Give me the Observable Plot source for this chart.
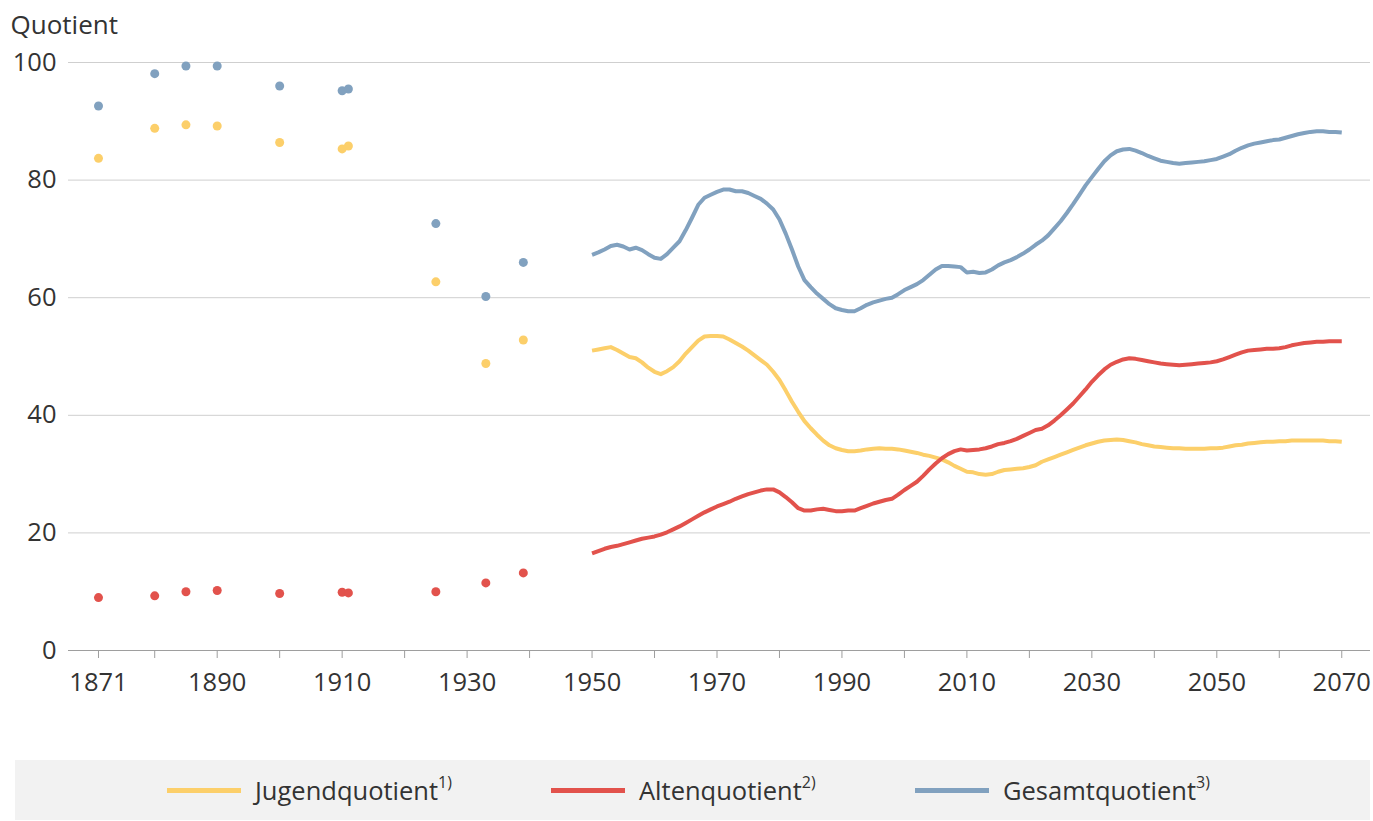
<!DOCTYPE html>
<html>
<head>
<meta charset="utf-8">
<script src="https://cdn.jsdelivr.net/npm/d3@7"></script>
<script src="https://cdn.jsdelivr.net/npm/@observablehq/plot@0.6"></script>
<style>
  html, body { margin: 0; padding: 0; background: #fff; }
  body { width: 1373px; font-family: "Open Sans", sans-serif; color: #333; }
  #chart svg { display: block; }
  .legend {
    margin: 20px 0 0 15px; width: 1355px; height: 60px; background: #f2f2f2;
    position: relative; font-size: 25.5px; color: #333;
  }
  .item { position: absolute; top: 0; height: 60px; display: flex; align-items: center; }
  .sw { width: 74px; height: 5px; margin-right: 14px; }
  .item sup { font-size: 16px; position: relative; top: -3px; }
</style>
</head>
<body>
<div id="chart"></div>
<div class="legend" id="legend"></div>
<script>
// ---- Data ----
const seriesNames = ["Jugendquotient", "Altenquotient", "Gesamtquotient"];
const seriesNotes = ["1)", "2)", "3)"];
const seriesColors = ["#fccf6a", "#e2524c", "#81a1bf"];

// Census years (dots)
const histYears   = [1871, 1880, 1885, 1890, 1900, 1910, 1911, 1925, 1933, 1939];
const histJugend  = [83.7, 88.8, 89.4, 89.2, 86.4, 85.3, 85.8, 62.7, 48.8, 52.8];
const histAlten   = [9.0, 9.3, 10.0, 10.2, 9.7, 9.9, 9.8, 10.0, 11.5, 13.2];
const histGesamt  = [92.6, 98.1, 99.4, 99.4, 96.0, 95.2, 95.5, 72.6, 60.2, 66.0];

// Annual series 1950–2070 (lines)
const lineYears = d3.range(1950, 2071);
const lineJugend = [
  51.0,51.2,51.4,51.6,51.1,50.5,49.9,49.7,49.0,48.1,
  47.4,47.0,47.5,48.2,49.2,50.5,51.6,52.7,53.4,53.5,
  53.5,53.4,52.9,52.3,51.7,51.0,50.2,49.4,48.6,47.4,
  46.0,44.2,42.3,40.6,39.0,37.8,36.7,35.7,34.9,34.4,
  34.1,33.9,33.9,34.0,34.2,34.3,34.4,34.3,34.3,34.2,
  34.0,33.8,33.6,33.3,33.1,32.8,32.5,32.0,31.4,30.9,
  30.4,30.3,30.0,29.9,30.0,30.4,30.7,30.8,30.9,31.0,
  31.2,31.5,32.1,32.5,32.9,33.3,33.7,34.1,34.5,34.9,
  35.2,35.5,35.7,35.8,35.9,35.8,35.6,35.4,35.1,34.9,
  34.7,34.6,34.5,34.4,34.4,34.3,34.3,34.3,34.3,34.4,
  34.4,34.5,34.7,34.9,35.0,35.2,35.3,35.4,35.5,35.5,
  35.6,35.6,35.7,35.7,35.7,35.7,35.7,35.7,35.6,35.6,
  35.5
];
const lineAlten = [
  16.5,16.9,17.3,17.6,17.8,18.1,18.4,18.7,19.0,19.2,
  19.4,19.7,20.1,20.6,21.1,21.7,22.3,22.9,23.5,24.0,
  24.5,24.9,25.3,25.8,26.2,26.6,26.9,27.2,27.4,27.4,
  26.9,26.1,25.2,24.2,23.8,23.8,24.0,24.1,23.9,23.7,
  23.7,23.8,23.8,24.2,24.6,25.0,25.3,25.6,25.8,26.5,
  27.3,28.0,28.7,29.7,30.8,31.8,32.7,33.4,33.9,34.2,
  34.0,34.1,34.2,34.4,34.7,35.1,35.3,35.6,36.0,36.5,
  37.0,37.5,37.7,38.3,39.1,40.0,41.0,42.0,43.2,44.4,
  45.7,46.8,47.8,48.6,49.1,49.5,49.7,49.6,49.4,49.2,
  49.0,48.8,48.7,48.6,48.5,48.6,48.7,48.8,48.9,49.0,
  49.2,49.5,49.9,50.3,50.7,51.0,51.1,51.2,51.3,51.3,
  51.4,51.6,51.9,52.1,52.3,52.4,52.5,52.5,52.6,52.6,
  52.6
];
const lineGesamt = [
  67.3,67.7,68.2,68.8,69.0,68.7,68.2,68.5,68.1,67.4,
  66.8,66.6,67.4,68.5,69.6,71.5,73.6,75.8,77.0,77.5,
  78.0,78.4,78.4,78.1,78.1,77.8,77.3,76.8,76.0,75.0,
  73.3,70.9,68.2,65.3,63.0,61.8,60.7,59.8,58.9,58.2,
  57.9,57.7,57.7,58.2,58.8,59.2,59.5,59.8,60.0,60.6,
  61.3,61.8,62.3,63.0,63.9,64.8,65.4,65.4,65.3,65.2,
  64.3,64.4,64.2,64.3,64.8,65.5,66.0,66.4,66.9,67.5,
  68.2,69.0,69.7,70.6,71.8,73.0,74.4,75.9,77.5,79.1,
  80.5,81.9,83.2,84.2,84.9,85.2,85.3,85.0,84.6,84.1,
  83.7,83.3,83.1,82.9,82.8,82.9,83.0,83.1,83.2,83.4,
  83.6,84.0,84.4,85.0,85.5,85.9,86.2,86.4,86.6,86.8,
  86.9,87.2,87.5,87.8,88.0,88.2,88.3,88.3,88.2,88.2,
  88.1
];

// Axis ticks
const xTickYears = [1871].concat(d3.range(1880, 2071, 10));
const xLabelYears = [1871, 1890, 1910, 1930, 1950, 1970, 1990, 2010, 2030, 2050, 2070];
const yTicks = [0, 20, 40, 60, 80, 100];

// ---- Build tables ----
const histValues = [histJugend, histAlten, histGesamt];
const lineValues = [lineJugend, lineAlten, lineGesamt];
const dots = [], lines = [];
seriesNames.forEach((s, k) => {
  histYears.forEach((y, i) => dots.push({series: s, year: y, value: histValues[k][i]}));
  lineYears.forEach((y, i) => lines.push({series: s, year: y, value: lineValues[k][i]}));
});

const chart = Plot.plot({
  width: 1373,
  height: 740,
  marginLeft: 68,
  marginRight: 3,
  marginTop: 62,
  marginBottom: 90,
  style: {fontFamily: "'Open Sans', sans-serif", fontSize: "25.5px", color: "#333", background: "#fff"},
  x: {domain: [1866.2, 2074.6]},
  y: {domain: [0, 100]},
  color: {domain: seriesNames, range: seriesColors},
  marks: [
    Plot.gridY(yTicks.slice(1), {stroke: "#cfcfcf", strokeOpacity: 1}),
    Plot.ruleY([0], {stroke: "#9e9e9e", strokeWidth: 1.2}),
    Plot.axisY({ticks: yTicks, tickSize: 0, tickPadding: 12, label: null, fontSize: 25.5, fill: "#333"}),
    Plot.axisX({ticks: xTickYears, tickSize: 8, tickPadding: 14, stroke: "#9e9e9e",
      tickFormat: d => xLabelYears.includes(d) ? String(d) : "", label: null, fontSize: 25.5, fill: "#333"}),
    Plot.text(["Quotient"], {frameAnchor: "top-left", textAnchor: "start", lineAnchor: "middle",
      dx: -58, dy: -37, fontSize: 26, fill: "#333"}),
    Plot.line(lines, {x: "year", y: "value", z: "series", stroke: "series", strokeWidth: 4,
      strokeLinejoin: "round", strokeLinecap: "butt"}),
    Plot.dot(dots, {x: "year", y: "value", fill: "series", r: 4.5, stroke: null})
  ]
});
document.getElementById("chart").appendChild(chart);

// ---- Legend ----
const legendX = [167, 551, 915];
const legend = document.getElementById("legend");
seriesNames.forEach((s, k) => {
  const it = document.createElement("div");
  it.className = "item";
  it.style.left = (legendX[k] - 15) + "px";
  it.innerHTML = `<span class="sw" style="background:${seriesColors[k]}"></span><span>${s}<sup>${seriesNotes[k]}</sup></span>`;
  legend.appendChild(it);
});
</script>
</body>
</html>
